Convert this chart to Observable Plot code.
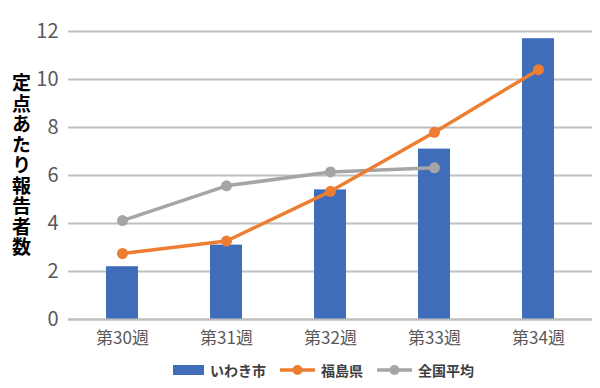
<!DOCTYPE html>
<html>
<head>
<meta charset="utf-8">
<script src="https://cdn.jsdelivr.net/npm/d3@7"></script>
<script src="https://cdn.jsdelivr.net/npm/@observablehq/plot@0.6"></script>
<style>
  html, body { margin: 0; padding: 0; background: #fff; }
  body { width: 600px; height: 388px; overflow: hidden; font-family: "Noto Sans CJK JP", sans-serif; }
  #legend { height: 28px; display: flex; align-items: center; justify-content: flex-start; padding-left: 173px; font-size: 14px; font-weight: bold; color: #404040; }
  #legend .item { display: flex; align-items: center; margin-right: 14px; }
  #legend svg { margin-right: 6px; }
  .ylabel text { writing-mode: vertical-rl; text-orientation: upright; letter-spacing: 1.5px; }
</style>
</head>
<body>
<div id="chart"></div>
<div id="legend"></div>
<script>
const weeks = ["第30週", "第31週", "第32週", "第33週", "第34週"];
const iwaki = [2.2, 3.1, 5.4, 7.1, 11.7];
const fukushima = [2.75, 3.27, 5.34, 7.8, 10.41];
const national = [4.12, 5.57, 6.15, 6.32, null];
const yTicks = [0, 2, 4, 6, 8, 10, 12];
const yLabel = "定点あたり報告者数";
const seriesNames = ["いわき市", "福島県", "全国平均"];
const colors = ["#3F6DBA", "#ED7D31", "#A5A5A5"];

const rows = weeks.map((w, i) => ({week: w, iwaki: iwaki[i], fukushima: fukushima[i], national: national[i]}));

const chart = Plot.plot({
  width: 600,
  height: 356,
  marginTop: 31,
  marginBottom: 37,
  marginLeft: 68,
  marginRight: 8,
  style: {fontFamily: "'Noto Sans CJK JP', sans-serif", background: "#fff"},
  x: {type: "band", domain: weeks, padding: 0, label: null, tickSize: 0, tickPadding: 12, fontSize: 17},
  y: {domain: [0, 12], ticks: yTicks, label: null, tickSize: 0, tickPadding: 10},
  marks: [
    Plot.gridY(yTicks, {stroke: "#BFBFBF", strokeOpacity: 1, strokeWidth: 2}),
    Plot.barY(rows, {x: "week", y: "iwaki", fill: colors[0], insetLeft: 36, insetRight: 36}),
    Plot.ruleY([0], {stroke: "#BFBFBF", strokeWidth: 2}),
    Plot.lineY(rows, {x: "week", y: "national", stroke: colors[2], strokeWidth: 3.5}),
    Plot.dot(rows, {x: "week", y: "national", fill: colors[2], r: 5.5, filter: d => d.national != null}),
    Plot.lineY(rows, {x: "week", y: "fukushima", stroke: colors[1], strokeWidth: 3.5}),
    Plot.dot(rows, {x: "week", y: "fukushima", fill: colors[1], r: 5.5}),
    Plot.axisY(yTicks, {tickSize: 0, tickPadding: 10, fontSize: 20, fill: "#595959"}),
    Plot.axisX(weeks, {tickSize: 0, tickPadding: 12, fontSize: 17, fill: "#595959"}),
    Plot.text([yLabel], {className: "ylabel", frameAnchor: "left", dx: -47, dy: -23, fontSize: 19, fontWeight: "bold", fill: "#000", textAnchor: "middle", lineAnchor: "top"})
  ]
});
document.getElementById("chart").appendChild(chart);

const legend = document.getElementById("legend");
seriesNames.forEach((name, i) => {
  const item = document.createElement("div");
  item.className = "item";
  let sw;
  if (i === 0) {
    sw = `<svg width="31" height="12"><rect x="0" y="1" width="31" height="10" fill="${colors[0]}"/></svg>`;
  } else {
    sw = `<svg width="35" height="12"><line x1="0" x2="35" y1="6" y2="6" stroke="${colors[i]}" stroke-width="3.5"/><circle cx="17.5" cy="6" r="5" fill="${colors[i]}"/></svg>`;
  }
  item.innerHTML = sw + `<span>${name}</span>`;
  legend.appendChild(item);
});
</script>
</body>
</html>
